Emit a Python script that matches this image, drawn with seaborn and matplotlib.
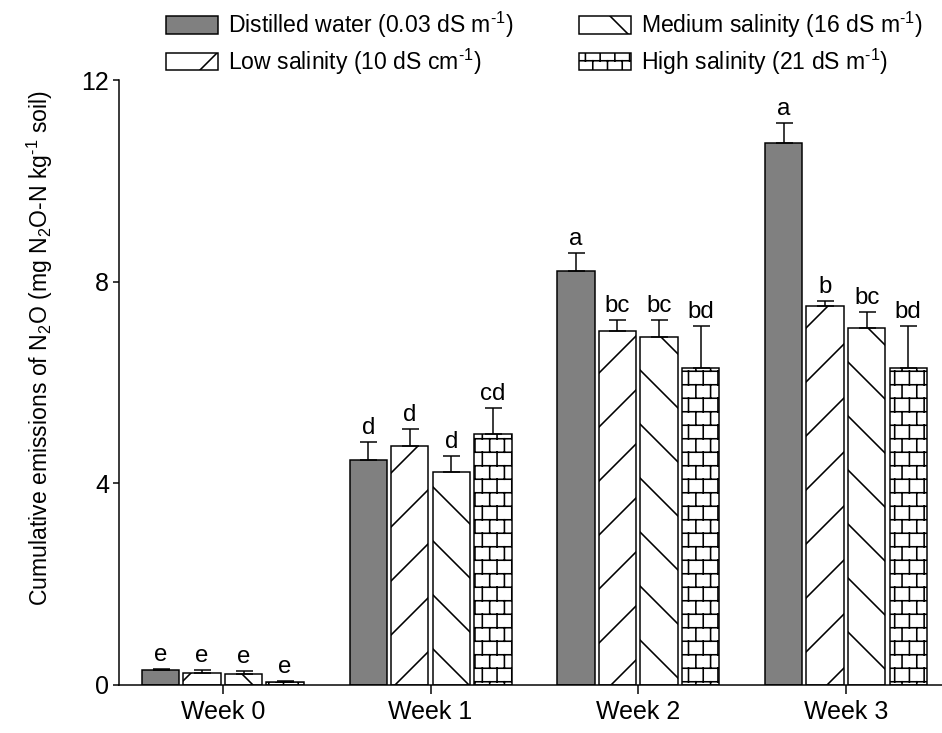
import numpy as np
import pandas as pd
import matplotlib
matplotlib.use("Agg")
import matplotlib.pyplot as plt
import seaborn as sns
from matplotlib import hatch as mhatch
from matplotlib.path import Path

# ---------------- data ----------------
weeks = ["Week 0", "Week 1", "Week 2", "Week 3"]
treatments = [
    r"Distilled water (0.03 dS m$^{\text{-}1}$)",
    r"Low salinity (10 dS cm$^{\text{-}1}$)",
    r"Medium salinity (16 dS m$^{\text{-}1}$)",
    r"High salinity (21 dS m$^{\text{-}1}$)",
]
distilled = [0.30, 4.46, 8.22, 10.75]
distilled_err = [0.01, 0.36, 0.35, 0.40]
low = [0.24, 4.74, 7.02, 7.52]
low_err = [0.06, 0.34, 0.22, 0.10]
medium = [0.22, 4.22, 6.91, 7.08]
medium_err = [0.06, 0.32, 0.32, 0.32]
high = [0.06, 4.98, 6.29, 6.29]
high_err = [0.01, 0.51, 0.83, 0.84]
letters_distilled = ["e", "d", "a", "a"]
letters_low = ["e", "d", "bc", "b"]
letters_medium = ["e", "d", "bc", "bc"]
letters_high = ["e", "cd", "bd", "bd"]

# ---------------- custom brick hatch ----------------
class BrickHatch(mhatch.HatchPatternBase):
    def __init__(self, hatch, density):
        self.on = hatch.count("*") > 0
        self.rows = 12
        self.cols = 11
        self.num_vertices = (self.rows * 2 + (self.rows + 1) * self.cols * 2) if self.on else 0

    def set_vertices_and_codes(self, vertices, codes):
        k = 0
        for r in range(self.rows):
            y = (r + 0.5) / self.rows
            vertices[k] = (0.0, y)
            vertices[k + 1] = (1.0, y)
            codes[k] = Path.MOVETO
            codes[k + 1] = Path.LINETO
            k += 2
        for r in range(-1, self.rows):
            y0 = max(0.0, (r + 0.5) / self.rows)
            y1 = min(1.0, (r + 1.5) / self.rows)
            off = 0.25 if r % 2 == 0 else 0.75
            for c in range(self.cols):
                x = (c + off) / self.cols
                vertices[k] = (x, y0)
                vertices[k + 1] = (x, y1)
                codes[k] = Path.MOVETO
                codes[k + 1] = Path.LINETO
                k += 2


mhatch._hatch_types = [BrickHatch if t is mhatch.Stars else t for t in mhatch._hatch_types]

# ---------------- style ----------------
DPI = 162
PT = 72.0 / DPI  # points per pixel

sns.set_style("ticks")
plt.rcParams["font.family"] = ["Liberation Sans", "DejaVu Sans"]
plt.rcParams["mathtext.fontset"] = "custom"
plt.rcParams["mathtext.rm"] = "Liberation Sans"
plt.rcParams["mathtext.it"] = "Liberation Sans:italic"
plt.rcParams["mathtext.bf"] = "Liberation Sans:bold"
plt.rcParams["hatch.linewidth"] = 1.6 * PT
plt.rcParams["hatch.color"] = "black"
for key in ["text.color", "axes.labelcolor", "xtick.color", "ytick.color",
            "xtick.labelcolor", "ytick.labelcolor"]:
    plt.rcParams[key] = "black"

df = pd.DataFrame({
    "week": weeks * 4,
    "treatment": [t for t in treatments for _ in weeks],
    "value": distilled + low + medium + high,
})
palette = dict(zip(treatments, ["#808080", "white", "white", "white"]))
hatches = ["", "/", "\\", "*"]
errs = [distilled_err, low_err, medium_err, high_err]
vals = [distilled, low, medium, high]
letters = [letters_distilled, letters_low, letters_medium, letters_high]

W, H = 942, 733
fig = plt.figure(figsize=(W / DPI, H / DPI), dpi=DPI)
left, right, top, bottom = 119, 942, 80, 685
ax = fig.add_axes([left / W, (H - bottom) / H, (right - left) / W, (bottom - top) / H])

sns.barplot(data=df, x="week", y="value", hue="treatment", order=weeks,
            hue_order=treatments, palette=palette, saturation=1,
            edgecolor="black", linewidth=1.5 * PT, width=0.8, gap=0.1,
            errorbar=None, legend=False, ax=ax)

bar_containers = list(ax.containers)
for i, cont in enumerate(bar_containers):
    xs = []
    for p in cont.patches:
        p.set_hatch(hatches[i])
        xs.append(p.get_x() + p.get_width() / 2)
    ax.errorbar(xs, vals[i], yerr=[np.zeros(len(xs)), errs[i]], fmt="none",
                ecolor="black", elinewidth=1.5 * PT, capsize=8.5 * PT,
                capthick=1.5 * PT, zorder=3)
    for x, v, e, l in zip(xs, vals[i], errs[i], letters[i]):
        ax.annotate(l, (x, v + e), xytext=(0, 3 * PT), textcoords="offset points",
                    ha="center", va="bottom", fontsize=24 * PT, color="black")

ax.set_xlim(-0.5, -0.5 + (right - left) / 207.7)
ax.set_ylim(0, 12)
ax.set_yticks([0, 4, 8, 12])
ax.set_xlabel("")
ax.set_ylabel(r"Cumulative emissions of N$_2$O (mg N$_2$O-N kg$^{\text{-}1}$ soil)",
              fontsize=23 * PT, color="black")
ax.yaxis.set_label_coords((55 - left) / (right - left), (bottom - 348) / (bottom - top))
for s in ["top", "right"]:
    ax.spines[s].set_visible(False)
for s in ["left", "bottom"]:
    ax.spines[s].set_linewidth(1.5 * PT)
    ax.spines[s].set_color("black")
ax.tick_params(axis="y", length=6 * PT, width=1.5 * PT, pad=4 * PT,
               labelsize=25 * PT, direction="out", colors="black")
ax.tick_params(axis="x", length=9 * PT, width=1.5 * PT, pad=6 * PT,
               labelsize=25 * PT, direction="out", colors="black")

handles = [c.patches[0] for c in bar_containers]
fig.legend(handles, treatments, ncol=2, loc="upper left",
           bbox_to_anchor=(166 / W, 1 - 10 / H), frameon=False,
           fontsize=23 * PT, handlelength=52 / 23, handleheight=18 / 23,
           handletextpad=10 / 23, columnspacing=66 / 23, labelspacing=0.28,
           borderpad=0, borderaxespad=0, labelcolor="black")

fig.savefig("out.png", dpi=DPI)
